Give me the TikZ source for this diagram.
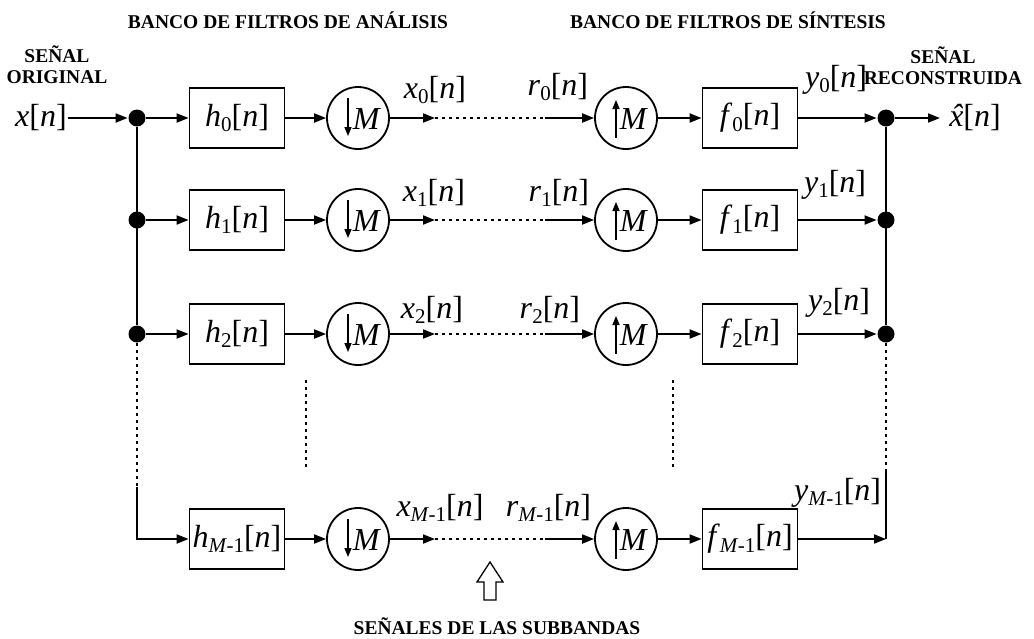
\documentclass[tikz,border=0pt]{standalone}
\usepackage{fontspec}
\setmainfont{Liberation Serif}
\usetikzlibrary{arrows.meta}
\newcommand{\sgn}[2]{\textit{#1}\raisebox{-0.35ex}{\fontsize{21}{21}\selectfont #2}[\textit{n}]}
\newcommand{\msub}{\textit{M}\kern-0.5pt-1}
\newcommand{\xhat}{\ooalign{\textit{x}\cr\hidewidth\kern2pt\textit{\char"02C6}\hidewidth\cr}}
\begin{document}
\begin{tikzpicture}[x=1pt,y=-1pt,
  line width=1.8pt,
  tip/.style={-{Triangle[length=12pt,width=9pt]}},
  filt/.style={draw,minimum width=95pt,minimum height=60pt,inner sep=0pt,font=\fontsize{32}{32}\selectfont},
  samp/.style={draw,circle,minimum size=62pt,inner sep=0pt},
  jdot/.style={fill,circle,minimum size=17pt,inner sep=0pt},
  sig/.style={font=\fontsize{32}{32}\selectfont,inner sep=0pt},
  ttl/.style={font=\fontsize{19.5}{21}\selectfont\bfseries,align=center,inner sep=0pt},
  dots/.style={line width=2pt,dash pattern=on 2.5pt off 4.5pt},
]
\useasboundingbox (0,0) rectangle (1034,638);

% titles
\node[ttl] (t1) at (288,20) {BANCO DE FILTROS DE ANÁLISIS};
\node[ttl] (t2) at (728,20) {BANCO DE FILTROS DE SÍNTESIS};
\node[ttl] (t3) at (57,65) {SEÑAL\\ORIGINAL};
\node[ttl] (t4) at (943,66) {SEÑAL\\RECONSTRUIDA};
\node[ttl,anchor=base] (t5) at (497,634) {SEÑALES DE LAS SUBBANDAS};

% input / output
\node[sig] (xin) at (41,118) {\textit{x}[\textit{n}]};
\node[sig] (xout) at (975,118) {\xhat[\textit{n}]};

% junctions
\node[jdot] (L0) at (137,118) {};
\node[jdot] (L1) at (137,220) {};
\node[jdot] (L2) at (137,334) {};
\coordinate (L3) at (137,539);
\coordinate (L3t) at (137,487);
\node[jdot] (R0) at (886,118) {};
\node[jdot] (R1) at (886,220) {};
\node[jdot] (R2) at (886,334) {};
\coordinate (R3) at (886,539);
\coordinate (R3t) at (886,470);
\coordinate (oend) at (940,118);

% rows
\foreach \i/\y/\s in {0/118/0,1/220/1,2/334/2,3/539/\msub}{
  \node[filt] (h\i) at (237,\y) {\sgn{h}{\s}};
  \node[samp] (d\i) at (358,\y) {};
  \node[samp] (u\i) at (626,\y) {};
  \node[filt] (f\i) at (750,\y) {\sgn{f}{\s}};
  \coordinate (a\i) at (435,\y);
  \coordinate (b\i) at (545,\y);
  \node[sig] at ([xshift=9pt,yshift=-1pt]d\i.center) {\textit{M}};
  \node[sig] at ([xshift=8pt,yshift=-1pt]u\i.center) {\textit{M}};
  \draw[-{Triangle[length=9pt,width=7pt]},line width=1.5pt] ([xshift=-10pt,yshift=20pt]d\i.center) -- ([xshift=-10pt,yshift=-18pt]d\i.center);
  \draw[-{Triangle[length=9pt,width=7pt]},line width=1.5pt] ([xshift=-10pt,yshift=-20pt]u\i.center) -- ([xshift=-10pt,yshift=18pt]u\i.center);
  \draw[tip] (h\i) -- (d\i);
  \draw[tip] (d\i) -- (a\i);
  \draw[dots] (a\i) -- (b\i);
  \draw[tip] (b\i) -- (u\i);
  \draw[tip] (u\i) -- (f\i);
}
\foreach \i in {0,1,2}{
  \draw[tip] (L\i) -- (h\i);
  \draw[tip] (f\i) -- (R\i);
}
\draw[tip] (L3t) -- (L3) -- (h3);
\draw[tip] (f3) -- (R3);
\draw (R3t) -- (R3);
\draw[tip] (xin) -- (L0);
\draw[tip] (R0) -- (oend);
\draw (L0) -- (L2);
\draw[dots] (L2) -- (L3t);
\draw (R0) -- (R2);
\draw[dots] (R2) -- (R3t);

% vertical dots between rows
\coordinate (m1) at (306,380); \coordinate (m2) at (306,470);
\coordinate (m3) at (673,380); \coordinate (m4) at (673,470);
\draw[dots] (m1) -- (m2);
\draw[dots] (m3) -- (m4);

% signal labels
\node[sig] (lx0) at (435,90) {\sgn{x}{0}};
\node[sig] (lx1) at (434,193) {\sgn{x}{1}};
\node[sig] (lx2) at (432,310) {\sgn{x}{2}};
\node[sig] (lx3) at (440,508) {\sgn{x}{\msub}};
\node[sig,anchor=east] (lr0) at (589,87) {\sgn{r}{0}};
\node[sig,anchor=east] (lr1) at (590,193) {\sgn{r}{1}};
\node[sig,anchor=east] (lr2) at (581,310) {\sgn{r}{2}};
\node[sig,anchor=east] (lr3) at (592,508) {\sgn{r}{\msub}};
\node[sig,anchor=east] (ly0) at (868,80) {\sgn{y}{0}};
\node[sig,anchor=east] (ly1) at (867,185) {\sgn{y}{1}};
\node[sig,anchor=east] (ly2) at (871,303) {\sgn{y}{2}};
\node[sig,anchor=east] (ly3) at (882,493) {\sgn{y}{\msub}};

% hollow arrow
\draw[line width=1.3pt] (484,600) -- (496,600) -- (496,582) -- (503,582) -- (490,562) -- (477,582) -- (484,582) -- cycle;
\end{tikzpicture}
\end{document}
